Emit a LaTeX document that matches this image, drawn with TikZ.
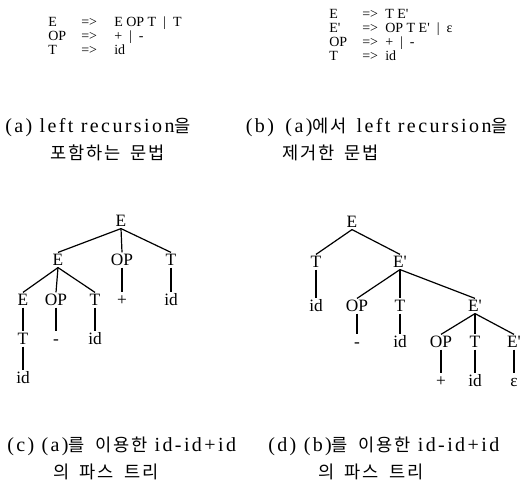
\documentclass[tikz,border=0pt]{standalone}
\usepackage{fontspec}
\setmainfont{Liberation Serif}
\newfontfamily\capfont{Liberation Serif}[LetterSpace=12]
\newfontfamily\krfont{Noto Sans CJK KR}[Scale=0.88,LetterSpace=10,WordSpace=1.8]
\usepackage{tikz}
\usetikzlibrary{calc}

\tikzset{
  gram/.style={anchor=base west, inner sep=0pt, font=\fontsize{10.5pt}{13pt}\selectfont},
  caption/.style={anchor=base west, inner sep=0pt, font=\fontsize{15pt}{18pt}\capfont},
  tnode/.style={inner sep=1pt, text height=9pt, text depth=0pt, font=\fontsize{13pt}{15pt}\selectfont},
  branch/.style={line width=0.9pt}
}

\begin{document}
\begin{tikzpicture}[x=0.75pt,y=-0.75pt]
\useasboundingbox (0,0) rectangle (532,491);
%\draw [help lines,step=20](0,0) grid (532,491);

% grammar (a)
\node [gram] (gaL1) at (48,26.5) {E};
\node [gram] (gaA1) at (81,26.5) {=>};
\node [gram] (gaR1) at (114,26.5) {E OP T\enspace|\enspace T};
\node [gram] (gaL2) at (48,40.5) {OP};
\node [gram] (gaA2) at (81,40.5) {=>};
\node [gram] (gaR2) at (114,40.5) {+\enspace|\enspace -};
\node [gram] (gaL3) at (48,54.5) {T};
\node [gram] (gaA3) at (81,54.5) {=>};
\node [gram] (gaR3) at (114,54.5) {id};

% grammar (b)
\node [gram] (gbL1) at (329,19) {E};
\node [gram] (gbA1) at (362,19) {=>};
\node [gram] (gbR1) at (385,19) {T E\textquotesingle};
\node [gram] (gbL2) at (329,33) {E\textquotesingle};
\node [gram] (gbA2) at (362,33) {=>};
\node [gram] (gbR2) at (385,33) {OP T E\textquotesingle\enspace|\enspace ε};
\node [gram] (gbL3) at (329,47) {OP};
\node [gram] (gbA3) at (362,47) {=>};
\node [gram] (gbR3) at (385,47) {+\enspace|\enspace -};
\node [gram] (gbL4) at (329,61) {T};
\node [gram] (gbA4) at (362,61) {=>};
\node [gram] (gbR4) at (385,61) {id};

% captions (a), (b)
\node [caption] (capA1) at (5,133) {(a) left recursion{\krfont 을}};
\node [caption] (capA2) at (50,160) {\krfont 포함하는 문법};
\node [caption,anchor=base east] (capB1) at (508,133) {(b)\hspace{3pt} (a){\krfont 에서}\hspace{2pt} left recursion{\krfont 을}};
\node [caption] (capB2) at (282,160) {\krfont 제거한 문법};

% parse tree (c)
\node [tnode] (a0) at (121,221) {E};
\node [tnode] (a1) at (58,260) {E};
\node [tnode] (a2) at (122,260) {OP};
\node [tnode] (a3) at (171,260) {T};
\node [tnode] (a11) at (23,300) {E};
\node [tnode] (a12) at (56,300) {OP};
\node [tnode] (a13) at (95,300) {T};
\node [tnode] (a21) at (122,300) {+};
\node [tnode] (a31) at (171,300) {id};
\node [tnode] (a111) at (23,339) {T};
\node [tnode] (a121) at (56,339) {-};
\node [tnode] (a131) at (95,339) {id};
\node [tnode] (a1111) at (23,378) {id};
\draw [branch] (a0.south) -- (a1.north);
\draw [branch] (a0.south) -- (a2.north);
\draw [branch] (a0.south) -- (a3.north);
\draw [branch] (a1.south) -- (a11.north);
\draw [branch] (a1.south) -- (a12.north);
\draw [branch] (a1.south) -- (a13.north);
\draw [branch] (a2.south) -- (a21.north);
\draw [branch] (a3.south) -- (a31.north);
\draw [branch] (a11.south) -- (a111.north);
\draw [branch] (a12.south) -- (a121.north);
\draw [branch] (a13.south) -- (a131.north);
\draw [branch] (a111.south) -- (a1111.north);

% parse tree (d)
\node [tnode] (b0) at (352,222) {E};
\node [tnode] (b1) at (316,262) {T};
\node [tnode] (b2) at (400,262) {E\textquotesingle};
\node [tnode] (b11) at (316,306) {id};
\node [tnode] (b21) at (357,306) {OP};
\node [tnode] (b22) at (400,306) {T};
\node [tnode] (b23) at (475,306) {E\textquotesingle};
\node [tnode] (b211) at (357,342) {-};
\node [tnode] (b221) at (400,342) {id};
\node [tnode] (b231) at (441,342) {OP};
\node [tnode] (b232) at (475,342) {T};
\node [tnode] (b233) at (514,342) {E\textquotesingle};
\node [tnode] (b2311) at (441,381) {+};
\node [tnode] (b2321) at (475,381) {id};
\node [tnode] (b2331) at (514,381) {ε};
\draw [branch] (b0.south) -- (b1.north);
\draw [branch] (b0.south) -- (b2.north);
\draw [branch] (b1.south) -- (b11.north);
\draw [branch] (b2.south) -- (b21.north);
\draw [branch] (b2.south) -- (b22.north);
\draw [branch] (b2.south) -- (b23.north);
\draw [branch] (b21.south) -- (b211.north);
\draw [branch] (b22.south) -- (b221.north);
\draw [branch] (b23.south) -- (b231.north);
\draw [branch] (b23.south) -- (b232.north);
\draw [branch] (b23.south) -- (b233.north);
\draw [branch] (b231.south) -- (b2311.north);
\draw [branch] (b232.south) -- (b2321.north);
\draw [branch] (b233.south) -- (b2331.north);

% captions (c), (d)
\node [caption] (capC1) at (7,451) {(c) (a){\krfont 를 이용한} id-id+id};
\node [caption] (capC2) at (53,479) {\krfont 의 파스 트리};
\node [caption] (capD1) at (268,451) {(d) (b){\krfont 를 이용한} id-id+id};
\node [caption] (capD2) at (318,479) {\krfont 의 파스 트리};
\end{tikzpicture}
\end{document}
